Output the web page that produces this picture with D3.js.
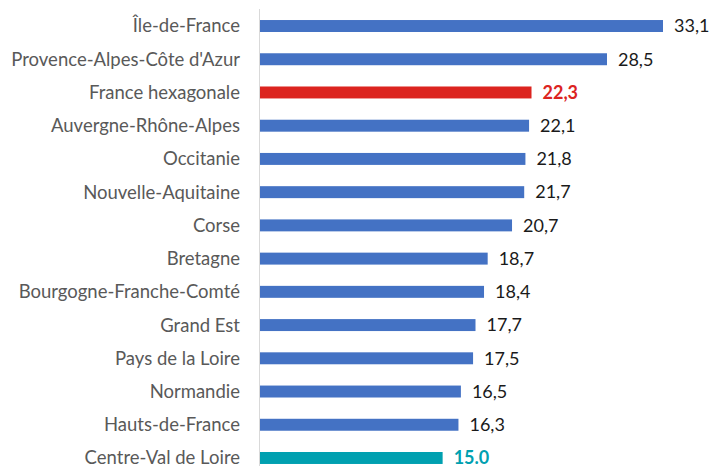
<!DOCTYPE html>
<html>
<head>
<meta charset="utf-8">
<script src="https://cdn.jsdelivr.net/npm/d3@7"></script>
<style>
  body { margin: 0; background: #fff; }
  text { font-family: Lato, "Open Sans", sans-serif; }
</style>
</head>
<body>
<svg id="chart" width="711" height="466"></svg>
<script>
var regions = ["Île-de-France", "Provence-Alpes-Côte d'Azur", "France hexagonale",
  "Auvergne-Rhône-Alpes", "Occitanie", "Nouvelle-Aquitaine", "Corse", "Bretagne",
  "Bourgogne-Franche-Comté", "Grand Est", "Pays de la Loire", "Normandie",
  "Hauts-de-France", "Centre-Val de Loire"];
var values = [33.1, 28.5, 22.3, 22.1, 21.8, 21.7, 20.7, 18.7, 18.4, 17.7, 17.5, 16.5, 16.3, 15.0];
var valueLabels = ["33,1", "28,5", "22,3", "22,1", "21,8", "21,7", "20,7", "18,7", "18,4",
  "17,7", "17,5", "16,5", "16,3", "15.0"];

var colorFor = function(name) {
  if (name == "France hexagonale") return "#DC241F";
  if (name == "Centre-Val de Loire") return "#00A0B0";
  return "#4472C4";
};

var svg = d3.select("#chart");

var x = d3.scaleLinear().domain([0, 33.1]).range([260, 663]);
var y = d3.scaleBand().domain(regions).range([9.4, 474.6]).paddingInner(0.64).paddingOuter(0.32);

// axis line
svg.append("line")
  .attr("x1", 259.5).attr("x2", 259.5)
  .attr("y1", 9).attr("y2", 466)
  .attr("stroke", "#d9d9d9").attr("stroke-width", 1);

var rows = svg.selectAll("g.row")
  .data(regions)
  .enter().append("g").attr("class", "row");

rows.append("rect")
  .attr("x", x(0))
  .attr("y", function(d) { return y(d); })
  .attr("height", y.bandwidth())
  .attr("width", function(d, i) { return x(values[i]) - x(0); })
  .attr("fill", colorFor);

rows.append("text")
  .attr("x", 240)
  .attr("y", function(d) { return y(d) + y.bandwidth() / 2; })
  .attr("dy", "0.35em")
  .attr("text-anchor", "end")
  .attr("font-size", 18.5)
  .attr("fill", "#595959")
  .text(function(d) { return d; });

rows.append("text")
  .attr("x", function(d, i) { return x(values[i]) + 11; })
  .attr("y", function(d) { return y(d) + y.bandwidth() / 2; })
  .attr("dy", "0.35em")
  .attr("font-size", 18)
  .attr("font-weight", function(d) { return colorFor(d) == "#4472C4" ? "normal" : "bold"; })
  .attr("fill", function(d) { return colorFor(d) == "#4472C4" ? "#1a1a1a" : colorFor(d); })
  .text(function(d, i) { return valueLabels[i]; });
</script>
</body>
</html>
